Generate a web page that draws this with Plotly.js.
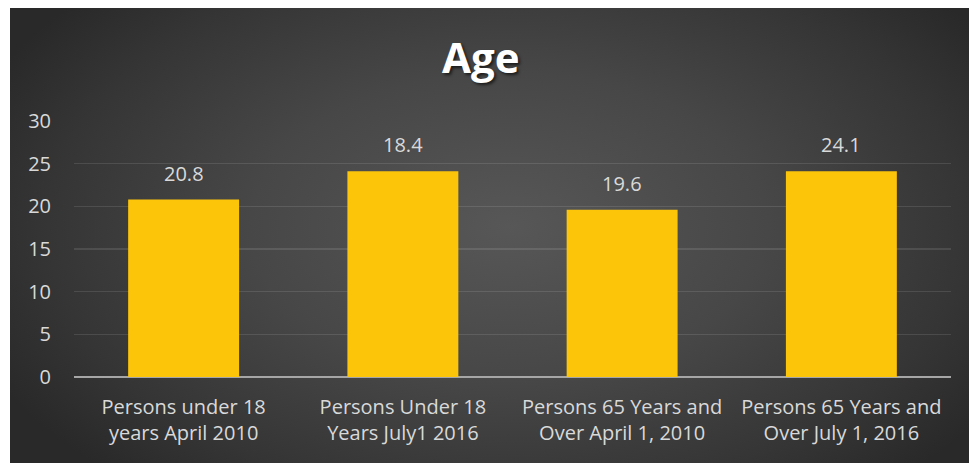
<!DOCTYPE html>
<html>
<head>
<meta charset="utf-8">
<script src="https://cdn.plot.ly/plotly-3.0.1.min.js"></script>
<style>
  html, body { margin: 0; padding: 0; background: #ffffff; width: 969px; height: 463px; overflow: hidden; }
  #chart {
    position: absolute; left: 10px; top: 8px; width: 959px; height: 455px;
    background: radial-gradient(ellipse 60% 75% at 52% 48%, #575757 0%, #474747 45%, #353535 80%, #292929 100%);
  }
</style>
</head>
<body>
<div id="chart"></div>
<script>
const categories = [
  "Persons under 18<br>years April 2010",
  "Persons Under 18<br>Years July1 2016",
  "Persons 65 Years and<br>Over April 1, 2010",
  "Persons 65 Years and<br>Over July 1, 2016"
];
// bar heights as drawn in the picture
const barValues = [20.8, 24.1, 19.6, 24.1];
// data labels as printed in the picture
const dataLabels = ["20.8", "18.4", "19.6", "24.1"];
const yTickValues = [0, 5, 10, 15, 20, 25, 30];

const fontFamily = "'Open Sans', 'Noto Sans', sans-serif";

const trace = {
  type: "bar",
  x: categories,
  y: barValues,
  marker: { color: "#FDC50A", line: { width: 0 } },
  hoverinfo: "skip"
};

const annotations = categories.map((c, i) => ({
  x: c, y: barValues[i], xref: "x", yref: "y",
  text: dataLabels[i], showarrow: false,
  yanchor: "bottom", yshift: 11,
  font: { family: fontFamily, size: 20, color: "#d9d9d9" }
}));

const layout = {
  width: 959, height: 455,
  paper_bgcolor: "rgba(0,0,0,0)",
  plot_bgcolor: "rgba(0,0,0,0)",
  margin: { l: 64, r: 18, t: 113, b: 86 },
  bargap: 0.494,
  showlegend: false,
  title: {
    text: "<b>Age</b>",
    x: 0.491, xanchor: "center",
    y: 1 - 50 / 455, yanchor: "middle", yref: "container",
    font: { family: fontFamily, size: 42, color: "#ffffff", shadow: "2px 2px 3px rgba(0,0,0,0.6)" }
  },
  xaxis: {
    type: "category",
    showgrid: false, zeroline: false, showline: false,
    ticks: "",
    ticklabelstandoff: 16,
    tickfont: { family: fontFamily, size: 20, color: "#d9d9d9" }
  },
  yaxis: {
    range: [0, 30],
    tickvals: yTickValues,
    ticktext: yTickValues.map(String),
    showgrid: true, gridcolor: "rgba(255,255,255,0.11)", gridwidth: 1.5,
    zeroline: true, zerolinecolor: "#a6a6a6", zerolinewidth: 2.5,
    showline: false, ticks: "",
    ticklabelstandoff: 22,
    tickfont: { family: fontFamily, size: 20, color: "#d9d9d9" }
  },
  annotations: annotations
};

Plotly.newPlot("chart", [trace], layout, { displayModeBar: false, staticPlot: true });
</script>
</body>
</html>
